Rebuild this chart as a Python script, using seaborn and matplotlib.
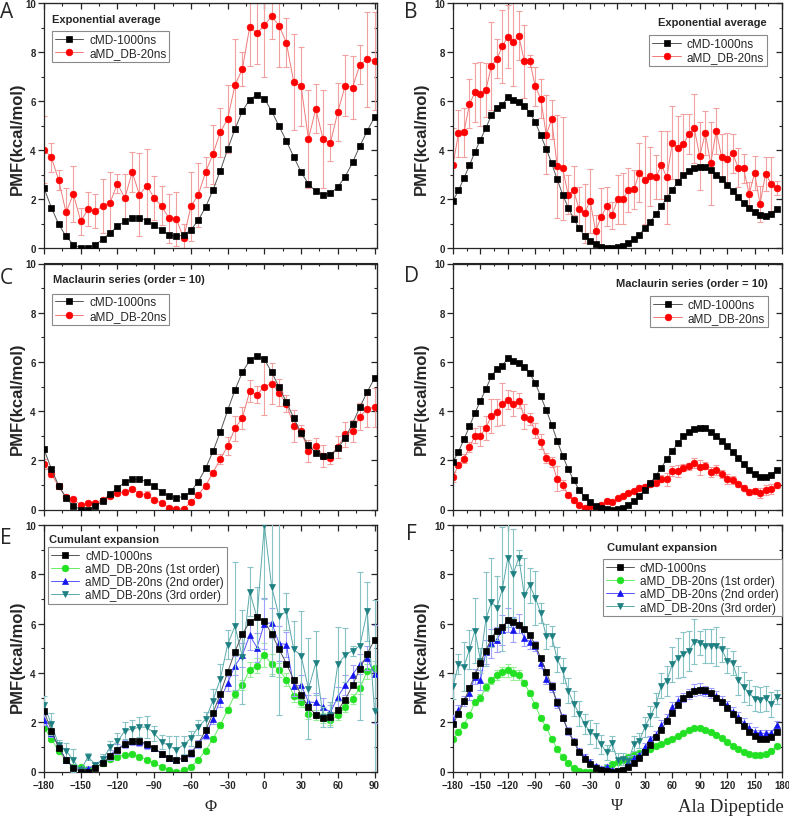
import numpy as np
import matplotlib
matplotlib.use("Agg")
import matplotlib.pyplot as plt
import seaborn as sns
from matplotlib.ticker import MultipleLocator

# ---------------- data ----------------
phi = list(range(-180, 91, 6))      # 46 bins
psi = list(range(-180, 175, 6))     # 60 bins

cmd_phi = [2.45, 1.65, 0.97, 0.47, 0.14, 0.00, 0.00, 0.13, 0.36, 0.62,
           0.88, 1.10, 1.22, 1.24, 1.12, 0.94, 0.73, 0.55, 0.47, 0.53,
           0.74, 1.13, 1.67, 2.36, 3.15, 4.03, 4.86, 5.58, 6.06, 6.25,
           6.10, 5.58, 4.97, 4.37, 3.72, 3.10, 2.61, 2.31, 2.18, 2.23,
           2.49, 2.91, 3.49, 4.16, 4.78, 5.34]
cmd_psi = [1.93, 2.35, 2.85, 3.38, 3.92, 4.42, 4.90, 5.42, 5.72, 5.85,
           6.15, 6.05, 5.95, 5.78, 5.53, 5.14, 4.60, 4.05, 3.45, 2.80,
           2.18, 1.65, 1.20, 0.80, 0.50, 0.30, 0.15, 0.05, 0.01, 0.00,
           0.03, 0.08, 0.20, 0.35, 0.55, 0.80, 1.08, 1.38, 1.70, 2.05,
           2.37, 2.70, 2.97, 3.15, 3.28, 3.32, 3.30, 3.17, 3.00, 2.80,
           2.58, 2.33, 2.08, 1.83, 1.62, 1.45, 1.33, 1.32, 1.40, 1.60]

exp_phi = [4.02, 3.70, 2.77, 1.45, 2.20, 1.10, 1.58, 1.50, 1.72, 1.85,
           2.63, 2.03, 3.10, 2.17, 2.55, 2.03, 1.72, 1.22, 1.20, 0.40,
           1.70, 2.17, 3.10, 3.83, 4.73, 5.27, 6.65, 7.30, 9.02, 8.77,
           9.10, 9.45, 9.08, 8.37, 6.77, 6.60, 4.45, 5.68, 4.43, 4.30,
           5.55, 6.63, 6.55, 7.48, 7.70, 7.65]
exp_phi_err = [1.35, 0.6, 0.4, 1.0, 1.15, 0.55, 0.7, 0.7, 1.1, 1.25,
               0.4, 1.0, 0.8, 1.7, 1.5, 0.9, 0.8, 1.0, 1.1, 0.6,
               1.4, 1.3, 0.6, 1.2, 1.0, 1.4, 1.9, 0.7, 1.6, 1.25,
               2.1, 0.9, 1.7, 1.0, 1.95, 1.6, 2.0, 1.0, 2.0, 0.75,
               1.2, 1.25, 1.3, 0.8, 1.95, 2.0]
exp_psi = [3.40, 4.68, 4.72, 5.88, 6.35, 6.28, 6.45, 7.43, 7.72, 8.23,
           8.63, 8.40, 8.67, 7.62, 7.63, 6.60, 6.10, 4.63, 5.25, 3.33,
           3.25, 2.17, 2.35, 1.58, 1.42, 1.93, 0.70, 1.25, 1.70, 1.33,
           1.98, 2.02, 2.35, 2.40, 3.08, 2.77, 2.92, 2.88, 3.38, 2.88,
           4.30, 4.10, 4.23, 4.65, 4.88, 3.75, 4.68, 3.45, 4.78, 3.70,
           3.65, 3.87, 3.28, 3.25, 2.20, 3.05, 1.80, 3.03, 2.63, 2.45]
exp_psi_err = [1.5, 0.95, 1.0, 1.0, 1.2, 1.3, 1.1, 1.8, 0.8, 1.5,
               1.3, 1.8, 1.0, 1.5, 0.25, 0.8, 0.8, 1.6, 0.8, 2.1,
               2.1, 0.8, 1.0, 0.9, 1.2, 1.3, 0.65, 1.2, 0.8, 0.55,
               1.0, 1.05, 0.9, 0.8, 1.2, 1.8, 1.2, 0.9, 1.4, 1.9,
               1.5, 1.3, 1.25, 0.8, 1.4, 1.4, 0.9, 1.7, 0.95, 0.95,
               1.05, 0.8, 0.8, 0.6, 0.5, 0.7, 0.75, 0.7, 1.1, 0.3]

mac_phi = [1.85, 1.43, 0.95, 0.50, 0.42, 0.18, 0.25, 0.27, 0.40, 0.55,
           0.67, 0.72, 0.82, 0.65, 0.60, 0.40, 0.25, 0.08, 0.03, 0.02,
           0.30, 0.60, 0.97, 1.50, 2.05, 2.58, 3.30, 3.72, 4.80, 4.67,
           5.00, 5.12, 4.75, 4.30, 3.38, 3.18, 2.37, 2.60, 2.18, 2.08,
           2.55, 3.05, 3.20, 3.77, 4.10, 4.15]
mac_phi_err = [0.2, 0.1, 0.1, 0.1, 0.05, 0.05, 0.05, 0.05, 0.05, 0.08,
               0.1, 0.05, 0.08, 0.1, 0.15, 0.05, 0.05, 0.05, 0.05, 0.05,
               0.08, 0.1, 0.1, 0.1, 0.2, 0.35, 0.5, 0.45, 0.45, 0.35,
               1.15, 0.85, 0.55, 0.35, 0.65, 0.25, 0.45, 0.3, 0.45, 0.25,
               0.45, 0.5, 0.45, 0.55, 0.75, 0.8]
mac_psi = [1.32, 1.82, 2.07, 2.53, 3.00, 3.00, 3.32, 3.80, 3.95, 4.28,
           4.47, 4.30, 4.42, 3.78, 3.68, 3.20, 2.75, 2.10, 1.93, 1.25,
           1.00, 0.60, 0.37, 0.20, 0.08, 0.13, 0.08, 0.17, 0.33, 0.30,
           0.45, 0.55, 0.68, 0.75, 0.88, 0.92, 1.05, 1.08, 1.25, 1.22,
           1.58, 1.57, 1.70, 1.75, 1.90, 1.72, 1.78, 1.52, 1.62, 1.45,
           1.23, 1.20, 1.02, 0.88, 0.70, 0.75, 0.68, 0.78, 0.82, 0.98]
mac_psi_err = [0.2, 0.1, 0.2, 0.2, 0.3, 0.4, 0.5, 0.7, 0.55, 0.85,
               0.4, 0.5, 0.3, 0.5, 0.25, 0.3, 0.3, 0.2, 0.2, 0.5,
               0.2, 0.1, 0.1, 0.05, 0.05, 0.05, 0.05, 0.05, 0.05, 0.05,
               0.05, 0.05, 0.05, 0.05, 0.1, 0.1, 0.15, 0.1, 0.15, 0.25,
               0.2, 0.25, 0.15, 0.15, 0.2, 0.3, 0.15, 0.2, 0.2, 0.15,
               0.2, 0.15, 0.1, 0.1, 0.1, 0.1, 0.2, 0.2, 0.2, 0.1]

cum1_phi = [1.78, 1.32, 0.82, 0.45, 0.20, 0.17, 0.10, 0.20, 0.35, 0.50,
            0.60, 0.68, 0.70, 0.60, 0.48, 0.33, 0.20, 0.07, 0.00, 0.05,
            0.20, 0.47, 0.85, 1.32, 1.88, 2.50, 3.13, 3.50, 4.13, 4.30,
            4.72, 4.35, 4.12, 3.73, 3.08, 2.82, 2.35, 2.28, 2.18, 2.07,
            2.28, 2.60, 2.95, 3.38, 4.07, 4.20]
cum1_phi_err = [0.1, 0.1, 0.05, 0.05, 0.05, 0.05, 0.05, 0.05, 0.05, 0.05,
                0.05, 0.05, 0.05, 0.05, 0.05, 0.05, 0.05, 0.05, 0.05, 0.05,
                0.05, 0.05, 0.05, 0.1, 0.1, 0.1, 0.15, 0.2, 0.3, 0.3,
                0.5, 0.4, 0.3, 0.25, 0.25, 0.2, 0.2, 0.2, 0.2, 0.2,
                0.2, 0.2, 0.2, 0.25, 0.3, 0.3]
cum2_phi = [2.10, 1.55, 1.02, 0.47, 0.18, 0.10, 0.12, 0.25, 0.48, 0.68,
            0.92, 1.12, 1.22, 1.18, 1.08, 0.95, 0.73, 0.55, 0.48, 0.55,
            0.75, 1.12, 1.50, 2.12, 2.92, 3.58, 4.30, 4.72, 5.52, 5.03,
            6.00, 6.03, 5.20, 5.15, 3.45, 3.50, 2.82, 2.80, 2.60, 2.40,
            3.03, 3.50, 3.93, 4.35, 4.60, 3.95]
cum2_phi_err = [0.2, 0.15, 0.1, 0.1, 0.1, 0.1, 0.1, 0.1, 0.15, 0.2,
                0.2, 0.15, 0.15, 0.15, 0.15, 0.1, 0.1, 0.1, 0.1, 0.1,
                0.15, 0.15, 0.2, 0.2, 0.3, 0.3, 0.4, 0.5, 0.6, 0.6,
                1.05, 0.6, 0.7, 0.5, 0.4, 0.4, 0.3, 0.4, 0.4, 0.3,
                0.4, 0.4, 0.4, 0.4, 0.5, 2.0]
cum3_phi = [2.70, 1.93, 1.08, 0.85, 0.45, 0.05, 0.60, 0.28, 0.50, 0.98,
            1.22, 1.65, 1.72, 1.80, 1.80, 1.55, 1.20, 1.05, 0.88, 1.08,
            1.35, 1.80, 2.12, 2.88, 3.75, 5.15, 5.90, 4.65, 7.30, 6.25,
            10.0, 7.48, 6.30, 6.50, 4.95, 4.70, 3.35, 4.40, 2.20, 2.30,
            4.35, 4.72, 4.90, 5.10, 6.50, 2.45]
cum3_phi_err = [0.35, 0.45, 0.2, 0.3, 0.45, 0.1, 0.15, 0.1, 0.2, 0.25,
                0.35, 0.35, 0.35, 0.4, 0.45, 0.3, 0.3, 0.4, 0.55, 0.35,
                0.3, 0.3, 0.3, 0.45, 0.6, 0.6, 2.6, 1.9, 1.0, 1.25,
                3.0, 3.6, 4.0, 0.75, 1.15, 1.8, 2.05, 1.3, 0.4, 0.5,
                1.5, 1.1, 0.2, 3.0, 1.2, 4.5]

cum1_psi = [1.30, 1.60, 1.90, 2.30, 2.80, 3.00, 3.42, 3.70, 3.93, 4.05,
            4.10, 3.98, 3.93, 3.60, 3.17, 2.68, 2.17, 1.80, 1.32, 0.93,
            0.57, 0.35, 0.13, 0.03, 0.00, 0.00, 0.05, 0.10, 0.20, 0.30,
            0.38, 0.47, 0.58, 0.68, 0.77, 0.85, 0.93, 1.03, 1.12, 1.22,
            1.33, 1.45, 1.58, 1.67, 1.75, 1.78, 1.70, 1.60, 1.48, 1.35,
            1.20, 1.05, 0.93, 0.80, 0.70, 0.65, 0.67, 0.72, 0.85, 1.03]
cum1_psi_err = [0.05, 0.05, 0.05, 0.05, 0.1, 0.15, 0.15, 0.15, 0.2, 0.2,
                0.25, 0.25, 0.2, 0.1, 0.1, 0.1, 0.05, 0.05, 0.05, 0.05,
                0.05, 0.05, 0.05, 0.05, 0.05, 0.05, 0.05, 0.05, 0.05, 0.05,
                0.05, 0.05, 0.05, 0.05, 0.05, 0.05, 0.05, 0.05, 0.05, 0.05,
                0.05, 0.05, 0.05, 0.05, 0.05, 0.05, 0.05, 0.05, 0.05, 0.05,
                0.05, 0.05, 0.05, 0.05, 0.05, 0.05, 0.05, 0.05, 0.05, 0.05]
cum2_psi = [2.10, 2.50, 2.85, 3.20, 3.85, 3.70, 4.85, 5.20, 5.35, 5.75,
            6.15, 5.75, 6.00, 5.40, 5.27, 5.10, 4.40, 3.75, 3.42, 2.78,
            2.20, 1.65, 1.25, 0.85, 0.60, 0.40, 0.22, 0.12, 0.20, 0.05,
            0.05, 0.05, 0.40, 0.55, 0.65, 1.00, 1.30, 1.50, 1.88, 2.15,
            2.60, 2.85, 3.00, 3.15, 3.30, 3.35, 3.25, 3.20, 3.05, 2.88,
            2.68, 2.42, 2.20, 1.97, 1.78, 1.62, 1.55, 1.55, 1.55, 1.88]
cum2_psi_err = [0.2, 0.2, 0.2, 0.3, 0.3, 0.4, 0.5, 0.6, 0.5, 0.6,
                0.5, 0.5, 0.4, 0.3, 0.3, 0.2, 0.2, 0.2, 0.2, 0.2,
                0.15, 0.15, 0.1, 0.1, 0.1, 0.1, 0.1, 0.1, 0.1, 0.1,
                0.1, 0.1, 0.1, 0.1, 0.1, 0.15, 0.15, 0.15, 0.2, 0.2,
                0.2, 0.2, 0.2, 0.2, 0.25, 0.25, 0.2, 0.2, 0.2, 0.2,
                0.2, 0.2, 0.2, 0.2, 0.2, 0.2, 0.15, 0.15, 0.15, 0.15]
cum3_psi = [3.45, 4.35, 4.25, 4.95, 5.72, 4.50, 6.18, 6.87, 6.65, 7.40,
            8.68, 8.03, 8.68, 7.15, 7.55, 7.05, 6.43, 5.48, 5.50, 4.55,
            4.10, 3.28, 2.75, 2.35, 1.93, 1.60, 1.45, 1.10, 0.78, 1.15,
            0.45, 0.50, 0.42, 1.12, 1.25, 1.80, 2.25, 2.70, 3.48, 3.68,
            4.35, 4.60, 4.75, 4.88, 5.27, 5.22, 5.10, 5.10, 5.08, 4.95,
            4.50, 4.40, 3.70, 3.42, 3.20, 2.95, 2.92, 2.97, 2.73, 3.02]
cum3_psi_err = [0.5, 0.4, 1.0, 0.8, 1.3, 0.5, 1.9, 1.8, 1.3, 2.5,
                2.8, 1.8, 0.3, 1.5, 0.7, 1.1, 0.4, 0.5, 0.4, 0.5,
                0.5, 0.5, 0.5, 0.5, 0.4, 0.5, 0.5, 0.4, 0.3, 0.3,
                0.3, 0.25, 0.2, 0.3, 0.3, 0.4, 0.4, 0.5, 0.5, 0.6,
                0.7, 0.8, 0.9, 0.8, 0.9, 0.5, 0.7, 0.7, 0.8, 0.5,
                0.5, 0.5, 0.6, 0.6, 0.5, 0.5, 0.5, 0.5, 0.5, 0.3]

labels_two = ["cMD-1000ns", "aMD_DB-20ns"]
labels_four = ["cMD-1000ns", "aMD_DB-20ns (1st order)",
               "aMD_DB-20ns (2nd order)", "aMD_DB-20ns (3rd order)"]
titles = ["Exponential average", "Maclaurin series (order = 10)", "Cumulant expansion"]
phi_ticks = [-180, -150, -120, -90, -60, -30, 0, 30, 60, 90]
psi_ticks = [-180, -150, -120, -90, -60, -30, 0, 30, 60, 90, 120, 150, 180]

# ---------------- styles ----------------
ST = {
    "cmd":  dict(mk="s", ms=4.0, mc="#000000", lc="#555555", ec=None),
    "red":  dict(mk="o", ms=4.8, mc="#ff0000", lc="#f07878", ec="#f2a0a0"),
    "grn":  dict(mk="o", ms=4.8, mc="#22e022", lc="#66ee66", ec="#99ee99"),
    "blu":  dict(mk="^", ms=4.8, mc="#1515ee", lc="#5555ff", ec="#a0a0ff"),
    "tea":  dict(mk="v", ms=4.8, mc="#1f8082", lc="#5aa8aa", ec="#88c4c6"),
}

sns.set_style("ticks")
plt.rcParams["font.family"] = ["Liberation Sans", "DejaVu Sans"]

W, H = 789, 820
fig = plt.figure(figsize=(W / 100, H / 100), dpi=100)


def rect(l, r, t, b):
    return [l / W, (H - b) / H, (r - l) / W, (b - t) / H]


def draw(ax, x, y, err, label, key, z):
    s = ST[key]
    if err is not None:
        ax.errorbar(x, y, yerr=err, fmt="none", ecolor=s["ec"], elinewidth=0.8,
                    capsize=2.5, capthick=0.8, zorder=z)
    sns.lineplot(x=x, y=y, ax=ax, estimator=None, sort=False, color=s["lc"],
                 linewidth=0.7, marker=s["mk"], markersize=s["ms"],
                 markerfacecolor=s["mc"], markeredgecolor=s["mc"],
                 markeredgewidth=0.5, label=label, zorder=z + 0.5)


def style(ax, xmax, ticks, xlabels):
    ax.set_xlim(-180, xmax)
    ax.set_ylim(0, 10)
    ax.set_xticks(ticks)
    ax.xaxis.set_minor_locator(MultipleLocator(15))
    ax.yaxis.set_major_locator(MultipleLocator(2))
    ax.yaxis.set_minor_locator(MultipleLocator(1))
    ax.tick_params(which="major", direction="out", length=4, width=0.9,
                   labelsize=7, pad=2)
    ax.tick_params(which="minor", direction="out", length=2.5, width=0.8)
    for lab in ax.get_xticklabels() + ax.get_yticklabels():
        lab.set_fontweight("bold")
    if not xlabels:
        ax.tick_params(axis="x", labelbottom=False)
    ax.set_xlabel("")
    ax.set_ylabel("")
    for sp in ax.spines.values():
        sp.set_visible(True)
        sp.set_linewidth(0.9)
    top = ax.secondary_xaxis("top")
    top.set_xticks(ticks)
    top.xaxis.set_minor_locator(MultipleLocator(15))
    top.tick_params(which="major", direction="in", length=4, width=0.9, labeltop=False)
    top.tick_params(which="minor", direction="in", length=2.5, width=0.8)
    right = ax.secondary_yaxis("right")
    right.yaxis.set_major_locator(MultipleLocator(2))
    right.yaxis.set_minor_locator(MultipleLocator(1))
    right.tick_params(which="major", direction="in", length=4, width=0.9, labelright=False)
    right.tick_params(which="minor", direction="in", length=2.5, width=0.8)


def legend(ax, loc, anchor, fs=8.5):
    h, l = ax.get_legend_handles_labels()
    lg = ax.legend(h, l, loc=loc, bbox_to_anchor=anchor, fontsize=fs,
                   frameon=True, fancybox=False, framealpha=1,
                   edgecolor="#8a8a8a", borderpad=0.25, handlelength=2.4,
                   handletextpad=0.5, labelspacing=0.1, borderaxespad=0)
    lg.get_frame().set_linewidth(0.8)


# axes rectangles (pixels)
L = (44, 377)
R = (453, 782)
rows = [(4, 249), (264.5, 510.5), (526, 772.5)]

axA = fig.add_axes(rect(L[0], L[1], *rows[0]))
axB = fig.add_axes(rect(R[0], R[1], *rows[0]))
axC = fig.add_axes(rect(L[0], L[1], *rows[1]))
axD = fig.add_axes(rect(R[0], R[1], *rows[1]))
axE = fig.add_axes(rect(L[0], L[1], *rows[2]))
axF = fig.add_axes(rect(R[0], R[1], *rows[2]))

# A
draw(axA, phi, cmd_phi, None, labels_two[0], "cmd", 4)
draw(axA, phi, exp_phi, exp_phi_err, labels_two[1], "red", 2)
# B
draw(axB, psi, cmd_psi, None, labels_two[0], "cmd", 4)
draw(axB, psi, exp_psi, exp_psi_err, labels_two[1], "red", 2)
# C
draw(axC, phi, cmd_phi, None, labels_two[0], "cmd", 4)
draw(axC, phi, mac_phi, mac_phi_err, labels_two[1], "red", 2)
# D
draw(axD, psi, cmd_psi, None, labels_two[0], "cmd", 4)
draw(axD, psi, mac_psi, mac_psi_err, labels_two[1], "red", 2)
# E
draw(axE, phi, cmd_phi, None, labels_four[0], "cmd", 8)
draw(axE, phi, cum1_phi, cum1_phi_err, labels_four[1], "grn", 2)
draw(axE, phi, cum2_phi, cum2_phi_err, labels_four[2], "blu", 4)
draw(axE, phi, cum3_phi, cum3_phi_err, labels_four[3], "tea", 6)
# F
draw(axF, psi, cmd_psi, None, labels_four[0], "cmd", 8)
draw(axF, psi, cum1_psi, cum1_psi_err, labels_four[1], "grn", 2)
draw(axF, psi, cum2_psi, cum2_psi_err, labels_four[2], "blu", 4)
draw(axF, psi, cum3_psi, cum3_psi_err, labels_four[3], "tea", 6)

style(axA, 92, phi_ticks, False)
style(axC, 92, phi_ticks, False)
style(axE, 92, phi_ticks, True)
style(axB, 180, psi_ticks, False)
style(axD, 180, psi_ticks, False)
style(axF, 180, psi_ticks, True)

tkw = dict(fontsize=8, fontweight="bold", va="center")
axA.text(0.024, 0.935, titles[0], transform=axA.transAxes, ha="left", **tkw)
axB.text(0.954, 0.922, titles[0], transform=axB.transAxes, ha="right", **tkw)
axC.text(0.027, 0.935, titles[1], transform=axC.transAxes, ha="left", **tkw)
axD.text(0.957, 0.921, titles[1], transform=axD.transAxes, ha="right", **tkw)
axE.text(0.015, 0.943, titles[2], transform=axE.transAxes, ha="left", **tkw)
axF.text(0.467, 0.911, titles[2], transform=axF.transAxes, ha="left", **tkw)

legend(axA, "upper left", (0.024, 0.886))
legend(axB, "upper right", (0.954, 0.869))
legend(axC, "upper left", (0.024, 0.878))
legend(axD, "upper right", (0.957, 0.869))
legend(axE, "upper left", (0.012, 0.911))
legend(axF, "upper left", (0.455, 0.862))


def ftext(x, y, s, **kw):
    fig.text(x / W, 1 - y / H, s, ha="center", va="center", **kw)


for (x, y, s) in [(7, 13, "A"), (411, 12, "B"), (6, 278, "C"),
                  (411, 277, "D"), (6, 539, "E"), (411, 535, "F")]:
    ftext(x, y, s, fontsize=15, family=["Open Sans", "DejaVu Sans"])

for (x, y) in [(17, 139), (421, 139), (17, 399), (421, 399), (17, 657), (421, 657)]:
    ftext(x, y, "PMF(kcal/mol)", fontsize=12, fontweight="bold", rotation=90)

ftext(211, 807, "Φ", fontsize=12, family=["Liberation Serif", "DejaVu Serif"])
ftext(617, 806, "Ψ", fontsize=12, family=["Liberation Serif", "DejaVu Serif"])
ftext(731, 808, "Ala Dipeptide", fontsize=13.5, family=["Liberation Serif", "DejaVu Serif"])

fig.savefig("out.png", dpi=100)
